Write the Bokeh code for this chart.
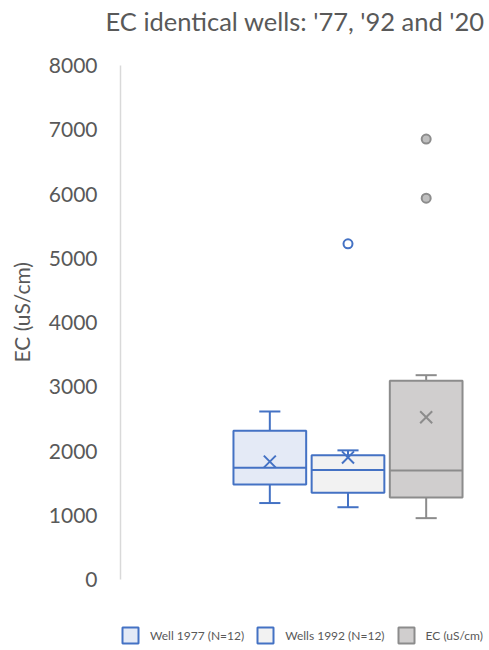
from bokeh.plotting import figure
from bokeh.models import Range1d, FixedTicker, Legend, LegendItem, ColumnDataSource, Title
from bokeh.embed import file_html
from bokeh.resources import INLINE

# ---- data ----
series = ["Well 1977 (N=12)", "Wells 1992 (N=12)", "EC (uS/cm)"]
whisker_low = [1190, 1125, 955]
q1 = [1480, 1350, 1275]
median = [1740, 1705, 1695]
q3 = [2315, 1935, 3095]
whisker_high = [2615, 2010, 3180]
mean = [1835, 1900, 2525]
outlier_series = [1, 2, 2]
outlier_values = [5225, 5935, 6855]
y_ticks = [0, 1000, 2000, 3000, 4000, 5000, 6000, 7000, 8000]
title_text = "EC identical wells: '77, '92 and '20"
y_label = "EC (uS/cm)"

# ---- styles ----
fills = ["#e4eaf6", "#f2f2f2", "#d0cece"]
lines = ["#4472c4", "#4472c4", "#8c8c8c"]
outlier_fills = ["#ffffff", "#ffffff", "#bfbfbf"]
FONT = "Lato"
TXT = "#595959"
BOX_W = 0.93
CAP_W = 0.27

pos = [i + 1 for i in range(len(series))]

# frame runs to the bottom of the page so the legend can sit inside it;
# the value axis itself is bounded to 0..8000
p = figure(width=489, height=650, output_backend="svg", toolbar_location=None,
           x_range=Range1d(-0.91, 3.81), y_range=Range1d(-1105, 8000),
           min_border_left=120, min_border_right=0, min_border_top=65,
           min_border_bottom=0)
p.title.text = ""

# spacer (nearest the frame) then the visible title above it
p.add_layout(Title(text=" ", text_font_size="1px", standoff=27), "above")
p.add_layout(Title(text=title_text, text_font=FONT, text_font_size="25.5px",
                   text_font_style="normal", text_color=TXT, align="left",
                   offset=-15, standoff=0, vertical_align="bottom"), "above")

p.xaxis.visible = False
p.xgrid.visible = False
p.ygrid.visible = False
p.outline_line_color = None

ya = p.yaxis[0]
ya.ticker = FixedTicker(ticks=y_ticks)
ya.bounds = (y_ticks[0], y_ticks[-1])
ya.major_label_text_font = FONT
ya.major_label_text_font_size = "21px"
ya.major_label_text_color = TXT
ya.major_label_standoff = 17
ya.axis_line_color = "#d9d9d9"
ya.axis_line_width = 1.5
ya.major_tick_line_color = None
ya.minor_tick_line_color = None

# value-axis title, centred on the 0..8000 axis (spacer keeps it off the tick labels)
p.add_layout(Title(text=" ", text_font_size="1px", standoff=9), "left")
p.add_layout(Title(text=y_label, text_font=FONT, text_font_size="21px",
                   text_font_style="normal", text_color=TXT, align="left",
                   offset=288, standoff=0, vertical_align="bottom"), "left")

src = ColumnDataSource(dict(
    x=pos, lo=whisker_low, q1=q1, med=median, q3=q3, hi=whisker_high, mean=mean,
    fill=fills, line=lines,
    bx0=[x - BOX_W / 2 for x in pos], bx1=[x + BOX_W / 2 for x in pos],
    cx0=[x - CAP_W / 2 for x in pos], cx1=[x + CAP_W / 2 for x in pos],
))

# whiskers
p.segment(x0="x", x1="x", y0="q3", y1="hi", line_color="line", line_width=2, source=src)
p.segment(x0="x", x1="x", y0="lo", y1="q1", line_color="line", line_width=2, source=src)
p.segment(x0="cx0", x1="cx1", y0="hi", y1="hi", line_color="line", line_width=2, source=src)
p.segment(x0="cx0", x1="cx1", y0="lo", y1="lo", line_color="line", line_width=2, source=src)

# boxes
boxes = p.vbar(x="x", width=BOX_W, bottom="q1", top="q3", fill_color="fill",
               line_color="line", line_width=2, source=src)

# medians
p.segment(x0="bx0", x1="bx1", y0="med", y1="med", line_color="line", line_width=2, source=src)

# means
p.scatter(x="x", y="mean", marker="x", size=17, line_color="line", line_width=2, source=src)

# outliers
osrc = ColumnDataSource(dict(
    x=[pos[s] for s in outlier_series], y=outlier_values,
    fill=[outlier_fills[s] for s in outlier_series],
    line=[lines[s] for s in outlier_series],
))
p.scatter(x="x", y="y", marker="circle", size=9, fill_color="fill", line_color="line",
          line_width=2, source=osrc)

items = [LegendItem(label=series[i], renderers=[boxes], index=i) for i in range(len(series))]
legend = Legend(items=items, orientation="horizontal", location=(0, 5),
                glyph_width=20, glyph_height=20, label_standoff=10, spacing=11,
                padding=2, margin=0, border_line_color=None, background_fill_alpha=0,
                label_text_font=FONT, label_text_font_size="12px",
                label_text_color=TXT)
p.add_layout(legend, "center")

open("out.html", "w").write(file_html(p, INLINE))
